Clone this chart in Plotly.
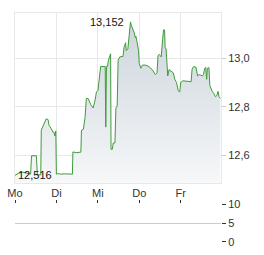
import plotly.graph_objects as go

# intraday time in days since Monday open, and price
days = [0.000, 0.094, 0.188, 0.376, 0.399, 0.516, 0.540, 0.622, 0.634, 0.657,
        0.704, 0.751, 0.798, 0.822, 0.869, 0.915, 0.939, 0.962, 0.985, 0.998,
        1.033, 1.103, 1.197, 1.385, 1.397, 1.479, 1.589, 1.603, 1.650, 1.690,
        1.721, 1.768, 1.824, 1.885, 1.925, 1.965, 2.002, 2.035, 2.066, 2.176,
        2.190, 2.207, 2.230, 2.254, 2.293, 2.307, 2.317, 2.347, 2.371, 2.411,
        2.434, 2.465, 2.488, 2.528, 2.606, 2.629, 2.669, 2.683, 2.723, 2.763,
        2.786, 2.810, 2.840, 2.880, 2.904, 2.918, 2.941, 2.981, 2.998, 3.035,
        3.075, 3.153, 3.232, 3.310, 3.387, 3.427, 3.451, 3.481, 3.505, 3.528,
        3.561, 3.584, 3.608, 3.622, 3.645, 3.662, 3.685, 3.716, 3.763, 3.819,
        3.857, 3.897, 3.937, 3.974, 3.998, 4.054, 4.249, 4.272, 4.312, 4.366,
        4.406, 4.444, 4.484, 4.523, 4.547, 4.577, 4.601, 4.624, 4.641, 4.678,
        4.702, 4.735, 4.758, 4.796, 4.836, 4.875, 4.899, 4.922, 4.953]
prices = [12.516, 12.525, 12.529, 12.521, 12.597, 12.597, 12.518, 12.518, 12.703, 12.711,
          12.731, 12.750, 12.747, 12.723, 12.711, 12.695, 12.695, 12.679, 12.700, 12.521,
          12.523, 12.521, 12.522, 12.521, 12.613, 12.610, 12.612, 12.703, 12.707, 12.756,
          12.835, 12.834, 12.810, 12.795, 12.822, 12.861, 12.868, 12.914, 12.967, 12.967,
          12.716, 12.967, 12.967, 12.993, 13.013, 13.020, 12.624, 12.624, 12.650, 12.650,
          12.795, 12.802, 12.993, 13.007, 13.009, 13.046, 13.066, 13.033, 13.040, 13.139,
          13.152, 13.136, 13.126, 13.106, 13.086, 13.092, 13.072, 13.033, 12.980, 12.960,
          12.973, 12.973, 12.967, 12.954, 12.934, 12.941, 13.013, 13.017, 13.013, 13.007,
          13.079, 13.119, 13.119, 13.046, 13.040, 12.987, 12.928, 12.954, 12.947, 12.941,
          12.914, 12.901, 12.868, 12.861, 12.901, 12.908, 12.904, 12.956, 12.967, 12.964,
          12.928, 12.934, 12.931, 12.928, 12.934, 12.960, 12.964, 12.914, 12.960, 12.963,
          12.888, 12.868, 12.864, 12.855, 12.842, 12.848, 12.864, 12.842, 12.835]

day_ticks = [0, 1, 2, 3, 4]
day_labels = ["Mo", "Di", "Mi", "Do", "Fr"]
price_ticks = [12.6, 12.8, 13.0]
price_labels = ["12,6", "12,8", "13,0"]
vol_ticks = [0, 5, 10]
vol_labels = ["0", "5", "10"]

FONT = "Arial, Liberation Sans, sans-serif"
XR = [0, 4.97]
YR = [12.486, 13.189]

fig = go.Figure()
fig.add_trace(go.Scatter(
    x=days, y=prices, mode="lines",
    line=dict(color="#3f9b3a", width=1),
    fill="tozeroy",
    fillgradient=dict(type="vertical", start=YR[0], stop=13.15,
                      colorscale=[[0, "#f8f9fa"], [1, "#cdd5dc"]]),
    hoverinfo="skip", xaxis="x", yaxis="y"))
# empty volume panel
fig.add_trace(go.Scatter(x=[], y=[], xaxis="x2", yaxis="y2", hoverinfo="skip"))

imax = prices.index(max(prices))
imin = prices.index(min(prices))
fig.add_annotation(x=days[imax], y=prices[imax], text=f"{prices[imax]:.3f}".replace(".", ","),
                   showarrow=False, xanchor="right", yanchor="middle", xshift=-4,
                   font=dict(family=FONT, size=11, color="#111"), xref="x", yref="y")
fig.add_annotation(x=days[imin], y=prices[imin], text=f"{prices[imin]:.3f}".replace(".", ","),
                   showarrow=False, xanchor="left", yanchor="middle", xshift=1,
                   font=dict(family=FONT, size=11, color="#111"), xref="x", yref="y")

H = 255
t, b = 7, 8
ph = H - t - b
main_bottom = (247 - 184.7) / ph
vol_top = (247 - 207.3) / ph

fig.update_layout(
    width=264, height=255,
    margin=dict(l=9, r=43, t=t, b=b),
    paper_bgcolor="white", plot_bgcolor="white",
    showlegend=False, hovermode=False,
    font=dict(family=FONT, size=11, color="#333"),
    xaxis=dict(domain=[0, 1], range=XR, tickvals=day_ticks, ticktext=day_labels,
               showgrid=True, gridcolor="#e8e8e8", gridwidth=1, zeroline=False,
               showline=True, linecolor="#e8e8e8", mirror=True, ticks="",
               anchor="y", tickfont=dict(size=11, color="#333")),
    yaxis=dict(domain=[main_bottom, 1], range=YR, side="right",
               tickvals=price_ticks, ticktext=price_labels,
               showgrid=True, gridcolor="#e8e8e8", zeroline=False,
               showline=True, linecolor="#e8e8e8", mirror=True,
               ticks="outside", ticklen=4, tickcolor="#cccccc",
               anchor="x", tickfont=dict(size=11, color="#333")),
    xaxis2=dict(domain=[0, 1], range=XR, tickvals=day_ticks, showticklabels=False,
                side="top", ticks="outside", ticklen=3, tickcolor="#333",
                showgrid=False, zeroline=False, showline=False, anchor="y2"),
    yaxis2=dict(domain=[0, vol_top], range=[0, 10], side="right",
                tickvals=vol_ticks, ticktext=vol_labels,
                showgrid=True, gridcolor="#cccccc", zeroline=False, showline=False,
                ticks="outside", ticklen=4, tickcolor="#333",
                anchor="x2", tickfont=dict(size=11, color="#333")),
)

fig.write_html("out.html", config={"displayModeBar": False})
